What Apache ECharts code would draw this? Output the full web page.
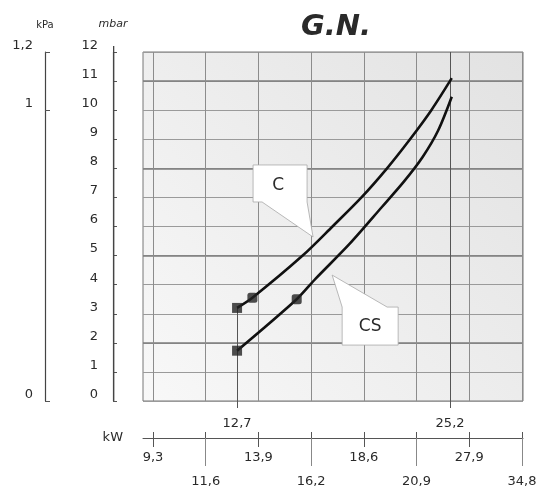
<!DOCTYPE html>
<html>
<head>
<meta charset="utf-8">
<script src="https://cdn.jsdelivr.net/npm/echarts@6/dist/echarts.min.js"></script>
<style>
  html, body { margin: 0; background: #fff; }
  #chart { width: 542px; height: 493px; }
</style>
</head>
<body>
<div id="chart"></div>
<script>
// curve C : kW / mbar
const cKw = [12.7, 13.6, 16.55, 18.3, 20.0, 21.5, 22.85, 24.1, 25.3];
const cMbar = [3.2, 3.55, 5.0, 6.0, 7.0, 8.0, 9.0, 10.0, 11.1];
// curve CS
const csKw = [12.7, 16.2, 17.3, 19.3, 21.2, 22.5, 23.6, 24.5, 25.3];
const csMbar = [1.73, 3.5, 4.2, 5.4, 6.67, 7.55, 8.4, 9.3, 10.46];

// marked points on the curves
const cMarkKw = [12.7, 13.6];
const cMarkMbar = [3.2, 3.55];
const csMarkKw = [12.7, 16.2];
const csMarkMbar = [1.73, 3.5];

// nominal outputs (ticks under the grid) and guide line tops
const nominalKw = [12.7, 25.2];
const guideTop = [3.2, 12];

// lower kW scale (evenly spaced, labels as printed)
const kwScaleLabels = ["9,3", "11,6", "13,9", "16,2", "18,6", "20,9", "27,9", "34,8"];
const kwScaleIdx = kwScaleLabels.map((_, i) => i);

// pressure scales
const mbarMax = 12;
const mbarStrong = [2, 5, 8, 11];
const kpaTicks = [0, 1, 1.2];

// callouts: anchor near the curves
const calloutText = ["C", "CS"];
const calloutKw = [17.16, 18.28];
const calloutMbar = [5.64, 4.33];

const comma = v => String(v).replace(".", ",");
const FONT = "DejaVu Sans";
const INK = "#2a2a2a";
const LINE = "#555";
const MBAR_OFFSET = 30;

const chart = echarts.init(document.getElementById("chart"));

const option = {
  animation: false,
  textStyle: { fontFamily: FONT },
  title: {
    text: "G.N.",
    left: 296,
    top: 8,
    textStyle: { fontFamily: FONT, fontStyle: "italic", fontWeight: "bold", fontSize: 29, color: INK }
  },
  grid: {
    left: 143, right: 19, top: 52, bottom: 92,
    show: true,
    borderColor: "#777",
    borderWidth: 1,
    backgroundColor: new echarts.graphic.LinearGradient(1, 0, 0, 1, [
      { offset: 0, color: "#e2e2e2" },
      { offset: 1, color: "#f8f8f8" }
    ])
  },
  xAxis: [
    {
      // data axis (kW)
      type: "value", min: 7.18, max: 29.48, position: "bottom",
      axisLine: { show: false, onZero: false },
      axisTick: { customValues: nominalKw, length: 7, lineStyle: { color: LINE } },
      axisLabel: { customValues: nominalKw, formatter: comma, margin: 16, fontSize: 13, color: INK, fontFamily: FONT },
      splitLine: { show: false }
    },
    {
      // lower kW scale
      type: "value", min: -0.19, max: 7.02, position: "bottom", offset: 37,
      name: "kW", nameLocation: "start", nameGap: 20,
      nameTextStyle: { fontSize: 13, color: INK, fontFamily: FONT },
      axisLine: { show: true, onZero: false, lineStyle: { color: LINE, width: 1 } },
      axisTick: { customValues: kwScaleIdx, length: 9, lineStyle: { color: LINE } },
      axisLabel: {
        customValues: kwScaleIdx,
        margin: 13,
        fontSize: 13, color: INK, fontFamily: FONT,
        formatter: v => (Math.round(v) % 2 ? "{lo|" : "{hi|") + kwScaleLabels[Math.round(v)] + "}",
        rich: { hi: { fontSize: 13, color: INK }, lo: { fontSize: 13, color: INK, padding: [24, 0, 0, 0] } }
      },
      splitLine: { show: true, lineStyle: { color: "#8c8c8c", width: 1 } }
    },
    {
      // upward part of lower ticks
      type: "value", min: -0.19, max: 7.02, position: "bottom", offset: 37,
      axisLine: { show: false, onZero: false },
      axisTick: { customValues: kwScaleIdx, inside: true, length: 6, lineStyle: { color: LINE } },
      axisLabel: { show: false },
      splitLine: { show: false }
    },
    {
      // long ticks for the lower label row
      type: "value", min: -0.19, max: 7.02, position: "bottom", offset: 37,
      axisLine: { show: false, onZero: false },
      axisTick: { customValues: kwScaleIdx.filter(i => i % 2), length: 28, lineStyle: { color: "#888" } },
      axisLabel: { show: false },
      splitLine: { show: false }
    }
  ],
  yAxis: [
    {
      type: "value", min: 0, max: mbarMax, interval: 1, position: "left", offset: MBAR_OFFSET,
      name: "mbar", nameLocation: "end", nameGap: 22,
      nameTextStyle: { fontSize: 11, fontStyle: "italic", color: INK, fontFamily: FONT },
      axisLine: { show: true, onZero: false, lineStyle: { color: "#444", width: 1.2 } },
      axisTick: { inside: true, length: 4, lineStyle: { color: LINE } },
      axisLabel: { margin: 15, fontSize: 13, color: INK, fontFamily: FONT, verticalAlign: "bottom" },
      splitLine: { show: true, lineStyle: { color: "#9a9a9a", width: 1 } }
    },
    {
      type: "value", min: 0, max: 1.2, position: "left", offset: 98,
      name: "kPa", nameLocation: "end", nameGap: 22,
      nameTextStyle: { fontSize: 10, color: INK, fontFamily: FONT },
      axisLine: { show: true, onZero: false, lineStyle: { color: "#444", width: 1.2 } },
      axisTick: { customValues: kpaTicks, inside: true, length: 5, lineStyle: { color: LINE } },
      axisLabel: { customValues: kpaTicks, formatter: comma, margin: 12, fontSize: 13, color: INK, fontFamily: FONT, verticalAlign: "bottom" },
      splitLine: { show: false }
    },
    {
      // stronger rows
      type: "value", min: 0, max: mbarMax, position: "left",
      axisLine: { show: false, onZero: false },
      axisTick: { show: false, customValues: mbarStrong },
      axisLabel: { show: false },
      splitLine: { show: true, lineStyle: { color: "#7c7c7c", width: 1.6 } }
    }
  ],
  series: [
    {
      name: "C", type: "line", smooth: 0.3, showSymbol: false,
      data: cKw.map((x, i) => [x, cMbar[i]]),
      lineStyle: { color: "#111", width: 2.6 },
      z: 5,
      markLine: {
        silent: true, symbol: "none", label: { show: false },
        lineStyle: { color: "#555", width: 1, type: "solid" },
        data: nominalKw.map((x, i) => [{ coord: [x, 0] }, { coord: [x, guideTop[i]] }])
      }
    },
    {
      name: "CS", type: "line", smooth: 0.3, showSymbol: false,
      data: csKw.map((x, i) => [x, csMbar[i]]),
      lineStyle: { color: "#111", width: 2.6 },
      z: 5
    },
    {
      type: "scatter", z: 6,
      data: cMarkKw.map((x, i) => ({ value: [x, cMarkMbar[i]], symbol: i ? "roundRect" : "rect" })),
      symbolSize: 10, itemStyle: { color: "#222" }
    },
    {
      type: "scatter", z: 6,
      data: csMarkKw.map((x, i) => ({ value: [x, csMarkMbar[i]], symbol: i ? "roundRect" : "rect" })),
      symbolSize: 10, itemStyle: { color: "#222" }
    }
  ]
};

chart.setOption(option);

// callout boxes, placed relative to their anchor
const calloutShapes = [
  { poly: [[-60, -72], [-6, -72], [-6, -35], [0, 0], [-51, -35], [-60, -35]], text: [-35, -51] },
  { poly: [[0, 0], [55, 32], [66, 32], [66, 70], [10, 70], [10, 32]], text: [38, 52] }
];
const graphics = [];
calloutText.forEach((t, i) => {
  const p = chart.convertToPixel({ xAxisIndex: 0, yAxisIndex: 0 }, [calloutKw[i], calloutMbar[i]]);
  const s = calloutShapes[i];
  graphics.push({
    type: "polygon", z: 1, silent: true,
    shape: { points: s.poly.map(q => [p[0] + q[0], p[1] + q[1]]) },
    style: { fill: "#fff", stroke: "#a8a8a8", lineWidth: 0.8 }
  });
  graphics.push({
    type: "text", z: 2, silent: true,
    x: p[0] + s.text[0], y: p[1] + s.text[1],
    style: { text: t, fontSize: 17, fontFamily: FONT, fill: INK, align: "center", verticalAlign: "middle" }
  });
});

// mbar scale line, drawn on its own layer above everything
const gridLeft = chart.convertToPixel({ xAxisIndex: 0 }, 7.18);
const yTop = chart.convertToPixel({ yAxisIndex: 0 }, mbarMax);
const yBottom = chart.convertToPixel({ yAxisIndex: 0 }, 0);
const lx = Math.round(gridLeft - MBAR_OFFSET) + 0.5;
graphics.push({
  type: "rect", z: 100, zlevel: 1, silent: true,
  shape: { x: lx - 0.5, y: yTop - 6, width: 1.3, height: yBottom - yTop + 6 },
  style: { fill: "#444" }
});

chart.setOption({ graphic: graphics });
</script>
</body>
</html>
